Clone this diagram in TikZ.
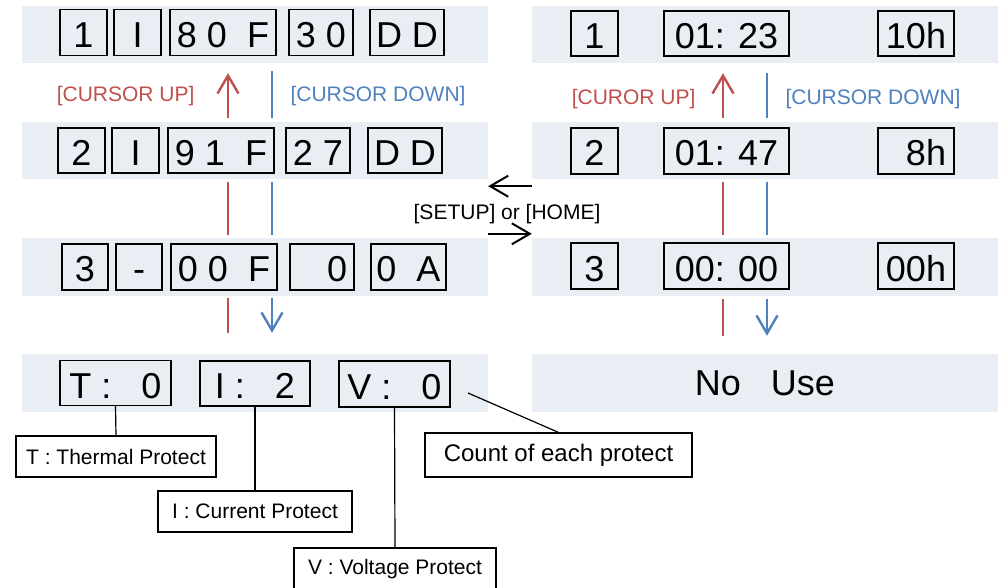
\documentclass[tikz,border=0pt]{standalone}
\usepackage{fontspec}
\setmainfont{Liberation Sans}
\usetikzlibrary{arrows.meta}
\definecolor{upred}{RGB}{192,80,77}
\definecolor{downblue}{RGB}{79,129,189}
\definecolor{bandgray}{RGB}{233,237,244}
\newcommand\lcdfont{\fontsize{36}{36}\selectfont}
\newcommand\keyfont{\fontsize{21}{21}\selectfont}
\newcommand\countfont{\fontsize{24}{24}\selectfont}
\tikzset{
  band/.style={fill=bandgray, inner sep=0, minimum width=466},
  lcd/.style={draw, line width=1.3pt, inner sep=0, font=\lcdfont, text height=30, text depth=0},
  note/.style={draw, line width=1.2pt, inner sep=0, font=\keyfont},
  upline/.style={draw=upred, line width=2.4pt},
  downline/.style={draw=downblue, line width=2.4pt},
  barb/.style={-{Straight Barb[length=18pt,width=21pt]}},
}

\begin{document}
\begin{tikzpicture}[x=1pt,y=-1pt]
			%%%%% START %%%%%
			\useasboundingbox (0,0) rectangle (999,588);
			
			\node[band, minimum height=57] (L1) at (255,34.5) {};
			\node[band, minimum height=57] (L2) at (255,150.5) {};
			\node[band, minimum height=58] (L3) at (255,267) {};
			\node[band, minimum height=58] (L4) at (255,383) {};
			\node[band, minimum height=57] (R1) at (765,34.5) {};
			\node[band, minimum height=57] (R2) at (765,150.5) {};
			\node[band, minimum height=58] (R3) at (765,267) {};
			\node[band, minimum height=58, font=\lcdfont] (R4) at (765,383) {No\ \ \ Use};
			
			\node[lcd, minimum width=47, minimum height=46] (a1) at (83.5,32.3) {1};
			\node[lcd, minimum width=47, minimum height=46] (a2) at (137.5,32.3) {I};
			\node[lcd, minimum width=106, minimum height=46] (a3) at (223,32.3) {8\ 0\ \ F};
			\node[lcd, minimum width=64, minimum height=46] (a4) at (321,32.3) {3\ 0};
			\node[lcd, minimum width=74, minimum height=46] (a5) at (407,32.3) {D\ D};
			
			\node[lcd, minimum width=47, minimum height=45] (b1) at (81.5,150.5) {2};
			\node[lcd, minimum width=47, minimum height=45] (b2) at (135.5,150.5) {I};
			\node[lcd, minimum width=106, minimum height=45] (b3) at (221,150.5) {9\ 1\ \ F};
			\node[lcd, minimum width=64, minimum height=45] (b4) at (318,150.5) {2\ 7};
			\node[lcd, minimum width=74, minimum height=45] (b5) at (405,150.5) {D\ D};
			
			\node[lcd, minimum width=46, minimum height=46] (c1) at (85,267) {3};
			\node[lcd, minimum width=46, minimum height=46] (c2) at (139,267) {-};
			\node[lcd, minimum width=106, minimum height=46] (c3) at (224,267) {0\ 0\ \ F};
			\node[lcd, minimum width=64, minimum height=46] (c4) at (322,267) {\phantom{0}\ 0};
			\node[lcd, minimum width=75, minimum height=46] (c5) at (408.5,267) {0\ \ A};
			
			\node[lcd, minimum width=111, minimum height=45] (t0) at (115.5,383) {T :\ \ \ 0};
			\node[lcd, minimum width=110, minimum height=45] (i0) at (255,383.5) {I :\ \ \ 2};
			\node[lcd, minimum width=111, minimum height=46] (v0) at (394.5,384) {V :\ \ \ 0};
			
			\node[lcd, minimum width=47, minimum height=45] (d1) at (594.5,33.5) {1};
			\node[lcd, minimum width=125, minimum height=45] (d2) at (726.5,33.5) {01: 23};
			\node[lcd, minimum width=76, minimum height=45] (d3) at (916,33.5) {10h};
			
			\node[lcd, minimum width=47, minimum height=46] (e1) at (594.5,151) {2};
			\node[lcd, minimum width=125, minimum height=46] (e2) at (726.5,151) {01: 47};
			\node[lcd, minimum width=76, minimum height=46] (e3) at (916,151) {\phantom{1}8h};
			
			\node[lcd, minimum width=47, minimum height=46] (f1) at (594.5,266) {3};
			\node[lcd, minimum width=125, minimum height=46] (f2) at (726.5,266) {00: 00};
			\node[lcd, minimum width=76, minimum height=46] (f3) at (916,266) {00h};
			
			\node[anchor=east, text=upred, font=\keyfont] (upL) at (198,96) {[CURSOR UP]};
			\node[anchor=west, text=downblue, font=\keyfont] (downL) at (287,96) {[CURSOR DOWN]};
			\node[anchor=east, text=upred, font=\keyfont] (upR) at (699,99) {[CUROR UP]};
			\node[anchor=west, text=downblue, font=\keyfont] (downR) at (782,99) {[CURSOR DOWN]};
			
			\coordinate (redL) at (228,0);
			\coordinate (blueL) at (272,0);
			\coordinate (redR) at (723,0);
			\coordinate (blueR) at (767,0);
			
			\draw[upline, barb, shorten <=4pt, shorten >=10pt] (L2.north -| redL) -- (L1.south -| redL);
			\draw[downline, shorten <=8pt, shorten >=4pt] (L1.south -| blueL) -- (L2.north -| blueL);
			\draw[upline, shorten <=3pt, shorten >=3pt] (L2.south -| redL) -- (L3.north -| redL);
			\draw[downline, shorten <=3pt, shorten >=3pt] (L2.south -| blueL) -- (L3.north -| blueL);
			\draw[upline, shorten <=2pt, shorten >=21pt] (L3.south -| redL) -- (L4.north -| redL);
			\draw[downline, barb, shorten <=2pt, shorten >=21pt] (L3.south -| blueL) -- (L4.north -| blueL);
			
			\draw[upline, barb, shorten <=4pt, shorten >=10pt] (R2.north -| redR) -- (R1.south -| redR);
			\draw[downline, shorten <=10pt, shorten >=4pt] (R1.south -| blueR) -- (R2.north -| blueR);
			\draw[upline, shorten <=3pt, shorten >=3pt] (R2.south -| redR) -- (R3.north -| redR);
			\draw[downline, shorten <=3pt, shorten >=3pt] (R2.south -| blueR) -- (R3.north -| blueR);
			\draw[upline, shorten <=3pt, shorten >=18pt] (R3.south -| redR) -- (R4.north -| redR);
			\draw[downline, barb, shorten <=3pt, shorten >=18pt] (R3.south -| blueR) -- (R4.north -| blueR);
			
			\draw[line width=2pt, barb] ([yshift=-7pt]R2.south west) -- ([yshift=-7pt]R2.south west -| L2.east);
			\node[font=\keyfont] (mode) at (507,214) {[SETUP] or [HOME]};
			\draw[line width=2pt, barb] ([yshift=4pt]L3.north east) -- ([yshift=4pt]L3.north east -| R3.west);
			
			\node[note, minimum width=200, minimum height=41] (tnote) at (116,456.5) {T : Thermal Protect};
			\node[note, minimum width=194, minimum height=41] (inote) at (255,511.5) {I : Current Protect};
			\node[note, minimum width=202, minimum height=42] (vnote) at (395,569) {V : Voltage Protect};
			\node[note, minimum width=267, minimum height=44, font=\countfont] (cnote) at (558.5,455) {Count of each protect};
			\coordinate (cnt) at (468,393);
			
			\draw[line width=1.2pt] (t0.south) -- (tnote.north);
			\draw[line width=1.2pt] (i0.south) -- (inote.north);
			\draw[line width=1.2pt] (v0.south) -- (vnote.north);
			\draw[line width=1.2pt] (cnt) -- (cnote.north);
			
			%%%%% END %%%%%
\end{tikzpicture}
\end{document}
